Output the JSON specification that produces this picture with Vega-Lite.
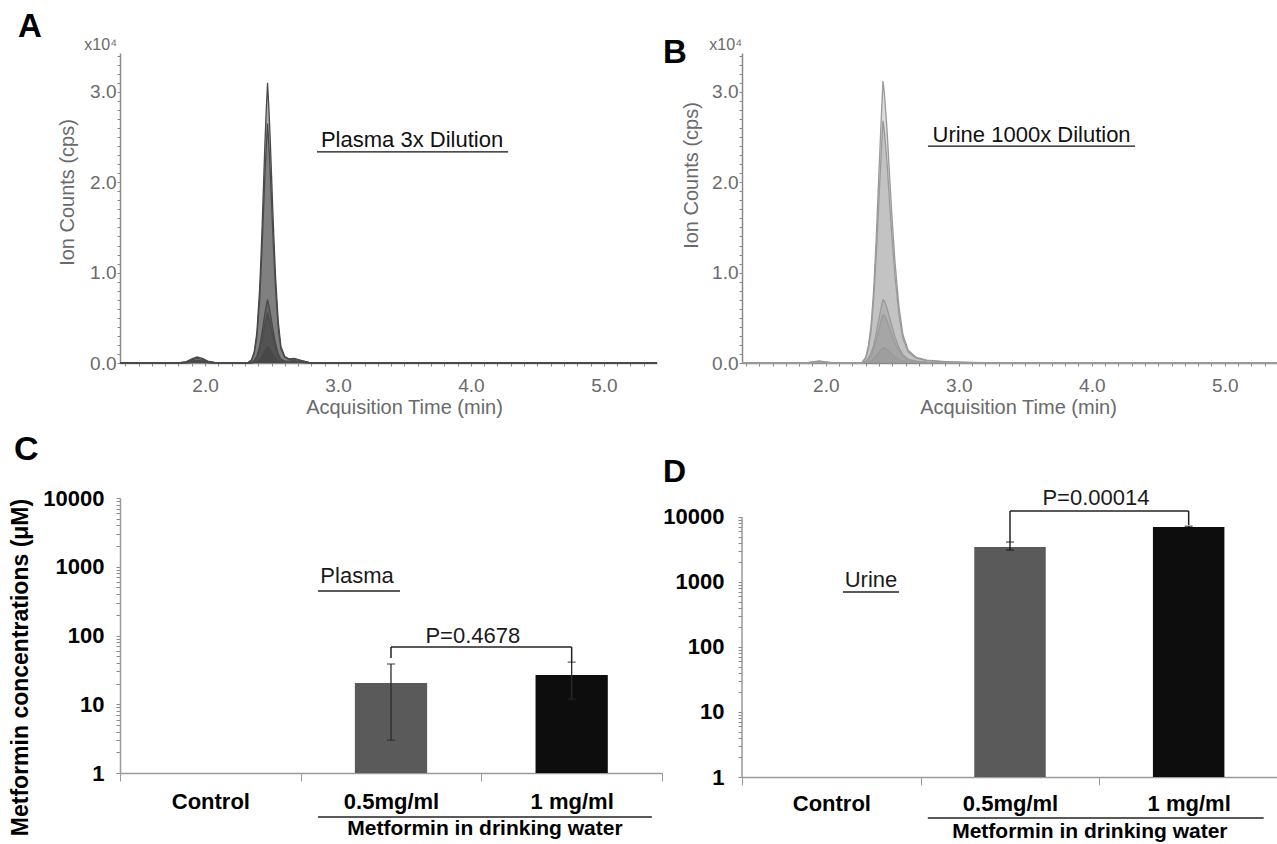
{
  "$schema": "https://vega.github.io/schema/vega-lite/v6.json",
  "padding": {"left": 9, "top": 11, "right": 0, "bottom": 0},
  "bounds": "flush",
  "columns": 2,
  "spacing": {"row": 135, "column": 80},
  "config": {
    "view": {"stroke": null},
    "font": "Liberation Sans",
    "axis": {"grid": false, "labelOverlap": false, "labelFlush": false, "labelBound": false}
  },
  "datasets": {
    "chromA": [
      {"t": 1.36, "s1": 0, "s2": 0, "s3": 0, "s4": 0, "s5": 0},
      {"t": 1.80, "s1": 0, "s2": 0, "s3": 0, "s4": 0, "s5": 0},
      {"t": 1.86, "s1": 0.015, "s2": 0.012, "s3": 0.008, "s4": 0.005, "s5": 0.003},
      {"t": 1.90, "s1": 0.045, "s2": 0.035, "s3": 0.022, "s4": 0.015, "s5": 0.008},
      {"t": 1.94, "s1": 0.066, "s2": 0.05, "s3": 0.03, "s4": 0.02, "s5": 0.01},
      {"t": 1.98, "s1": 0.05, "s2": 0.04, "s3": 0.024, "s4": 0.016, "s5": 0.008},
      {"t": 2.02, "s1": 0.022, "s2": 0.018, "s3": 0.011, "s4": 0.008, "s5": 0.004},
      {"t": 2.07, "s1": 0.006, "s2": 0.005, "s3": 0.003, "s4": 0.002, "s5": 0.001},
      {"t": 2.12, "s1": 0, "s2": 0, "s3": 0, "s4": 0, "s5": 0},
      {"t": 2.32, "s1": 0, "s2": 0, "s3": 0, "s4": 0, "s5": 0},
      {"t": 2.35, "s1": 0.037, "s2": 0.032, "s3": 0.008, "s4": 0.007, "s5": 0.002},
      {"t": 2.37, "s1": 0.124, "s2": 0.106, "s3": 0.028, "s4": 0.022, "s5": 0.007},
      {"t": 2.39, "s1": 0.341, "s2": 0.292, "s3": 0.077, "s4": 0.061, "s5": 0.02},
      {"t": 2.41, "s1": 0.806, "s2": 0.689, "s3": 0.182, "s4": 0.143, "s5": 0.047},
      {"t": 2.42, "s1": 1.147, "s2": 0.981, "s3": 0.259, "s4": 0.204, "s5": 0.067},
      {"t": 2.43, "s1": 1.55, "s2": 1.325, "s3": 0.35, "s4": 0.275, "s5": 0.09},
      {"t": 2.44, "s1": 1.984, "s2": 1.696, "s3": 0.448, "s4": 0.352, "s5": 0.115},
      {"t": 2.45, "s1": 2.418, "s2": 2.067, "s3": 0.546, "s4": 0.429, "s5": 0.14},
      {"t": 2.46, "s1": 2.79, "s2": 2.385, "s3": 0.63, "s4": 0.495, "s5": 0.162},
      {"t": 2.47, "s1": 3.1, "s2": 2.65, "s3": 0.7, "s4": 0.55, "s5": 0.18},
      {"t": 2.48, "s1": 2.821, "s2": 2.412, "s3": 0.637, "s4": 0.501, "s5": 0.164},
      {"t": 2.49, "s1": 2.48, "s2": 2.12, "s3": 0.56, "s4": 0.44, "s5": 0.144},
      {"t": 2.50, "s1": 2.077, "s2": 1.776, "s3": 0.469, "s4": 0.369, "s5": 0.121},
      {"t": 2.51, "s1": 1.674, "s2": 1.431, "s3": 0.378, "s4": 0.297, "s5": 0.097},
      {"t": 2.52, "s1": 1.302, "s2": 1.113, "s3": 0.294, "s4": 0.231, "s5": 0.076},
      {"t": 2.53, "s1": 0.961, "s2": 0.822, "s3": 0.217, "s4": 0.171, "s5": 0.056},
      {"t": 2.55, "s1": 0.465, "s2": 0.398, "s3": 0.105, "s4": 0.083, "s5": 0.027},
      {"t": 2.57, "s1": 0.186, "s2": 0.159, "s3": 0.042, "s4": 0.033, "s5": 0.011},
      {"t": 2.60, "s1": 0.07, "s2": 0.06, "s3": 0.02, "s4": 0.015, "s5": 0.006},
      {"t": 2.63, "s1": 0.045, "s2": 0.04, "s3": 0.02, "s4": 0.015, "s5": 0.008},
      {"t": 2.67, "s1": 0.05, "s2": 0.045, "s3": 0.025, "s4": 0.02, "s5": 0.01},
      {"t": 2.72, "s1": 0.03, "s2": 0.025, "s3": 0.015, "s4": 0.012, "s5": 0.008},
      {"t": 2.78, "s1": 0.008, "s2": 0.006, "s3": 0.004, "s4": 0.003, "s5": 0.002},
      {"t": 2.85, "s1": 0, "s2": 0, "s3": 0, "s4": 0, "s5": 0},
      {"t": 5.40, "s1": 0, "s2": 0, "s3": 0, "s4": 0, "s5": 0}
    ],
    "chromB": [
      {"t": 1.37, "s1": 0, "s2": 0, "s3": 0, "s4": 0, "s5": 0},
      {"t": 1.85, "s1": 0, "s2": 0, "s3": 0, "s4": 0, "s5": 0},
      {"t": 1.90, "s1": 0.012, "s2": 0.01, "s3": 0.006, "s4": 0.004, "s5": 0.002},
      {"t": 1.95, "s1": 0.022, "s2": 0.018, "s3": 0.01, "s4": 0.007, "s5": 0.003},
      {"t": 2.00, "s1": 0.012, "s2": 0.01, "s3": 0.006, "s4": 0.004, "s5": 0.002},
      {"t": 2.06, "s1": 0, "s2": 0, "s3": 0, "s4": 0, "s5": 0},
      {"t": 2.27, "s1": 0, "s2": 0, "s3": 0, "s4": 0, "s5": 0},
      {"t": 2.30, "s1": 0.062, "s2": 0.054, "s3": 0.018, "s4": 0.014, "s5": 0.005},
      {"t": 2.32, "s1": 0.187, "s2": 0.161, "s3": 0.05, "s4": 0.038, "s5": 0.013},
      {"t": 2.34, "s1": 0.406, "s2": 0.348, "s3": 0.105, "s4": 0.08, "s5": 0.026},
      {"t": 2.36, "s1": 0.811, "s2": 0.697, "s3": 0.2, "s4": 0.153, "s5": 0.05},
      {"t": 2.38, "s1": 1.404, "s2": 1.206, "s3": 0.335, "s4": 0.256, "s5": 0.083},
      {"t": 2.40, "s1": 2.122, "s2": 1.822, "s3": 0.49, "s4": 0.375, "s5": 0.12},
      {"t": 2.42, "s1": 2.808, "s2": 2.412, "s3": 0.64, "s4": 0.49, "s5": 0.156},
      {"t": 2.43, "s1": 3.12, "s2": 2.68, "s3": 0.7, "s4": 0.535, "s5": 0.17},
      {"t": 2.44, "s1": 2.995, "s2": 2.573, "s3": 0.69, "s4": 0.528, "s5": 0.168},
      {"t": 2.46, "s1": 2.59, "s2": 2.224, "s3": 0.61, "s4": 0.467, "s5": 0.149},
      {"t": 2.48, "s1": 2.059, "s2": 1.769, "s3": 0.5, "s4": 0.383, "s5": 0.122},
      {"t": 2.50, "s1": 1.56, "s2": 1.34, "s3": 0.39, "s4": 0.298, "s5": 0.095},
      {"t": 2.52, "s1": 1.123, "s2": 0.965, "s3": 0.29, "s4": 0.222, "s5": 0.071},
      {"t": 2.55, "s1": 0.624, "s2": 0.536, "s3": 0.17, "s4": 0.13, "s5": 0.042},
      {"t": 2.58, "s1": 0.312, "s2": 0.268, "s3": 0.09, "s4": 0.069, "s5": 0.022},
      {"t": 2.62, "s1": 0.14, "s2": 0.121, "s3": 0.042, "s4": 0.032, "s5": 0.011},
      {"t": 2.68, "s1": 0.062, "s2": 0.054, "s3": 0.02, "s4": 0.015, "s5": 0.005},
      {"t": 2.76, "s1": 0.031, "s2": 0.027, "s3": 0.01, "s4": 0.007, "s5": 0.003},
      {"t": 2.90, "s1": 0.016, "s2": 0.013, "s3": 0.005, "s4": 0.004, "s5": 0.002},
      {"t": 3.10, "s1": 0.006, "s2": 0.005, "s3": 0.002, "s4": 0.002, "s5": 0.001},
      {"t": 3.30, "s1": 0, "s2": 0, "s3": 0, "s4": 0, "s5": 0},
      {"t": 5.40, "s1": 0, "s2": 0, "s3": 0, "s4": 0, "s5": 0}
    ],
    "plasma": [
      {"dose": "0.5mg/ml", "mean": 20.4, "lo": 3.0, "hi": 38.5},
      {"dose": "1 mg/ml", "mean": 26.6, "lo": 11.9, "hi": 41}
    ],
    "urine": [
      {"dose": "0.5mg/ml", "mean": 3455, "lo": 3100, "hi": 4120},
      {"dose": "1 mg/ml", "mean": 7020, "lo": 6800, "hi": 7200}
    ]
  },
  "concat": [
    {
      "width": 537,
      "height": 310,
      "layer": [
        {
          "data": {"name": "chromA"},
          "transform": [{"fold": ["s1", "s2", "s3", "s4", "s5"], "as": ["series", "v"]}],
          "mark": {"type": "area", "color": "#3a3a3a", "fillOpacity": 0.4, "line": {"color": "#4a4a4a", "strokeWidth": 1.3}},
          "encoding": {
            "x": {
              "field": "t", "type": "quantitative",
              "scale": {"domain": [1.36, 5.4], "nice": false, "zero": false},
              "axis": {
                "values": [1.4,1.5,1.6,1.7,1.8,1.9,2,2.1,2.2,2.3,2.4,2.5,2.6,2.7,2.8,2.9,3,3.1,3.2,3.3,3.4,3.5,3.6,3.7,3.8,3.9,4,4.1,4.2,4.3,4.4,4.5,4.6,4.7,4.8,4.9,5,5.1,5.2,5.3],
                "tickCount": 200,
                "labelExpr": "indexof([2,3,4,5], datum.value) >= 0 ? format(datum.value, '.1f') : ''",
                "labelOverlap": false,
                "tickSize": 3, "tickColor": "#888888", "domainColor": "#8a8a8a", "domainWidth": 1.5,
                "labelFontSize": 19, "labelColor": "#6a6a6a", "labelPadding": 10,
                "title": "Acquisition Time (min)", "titleFontSize": 20, "titleFontWeight": "normal", "titleColor": "#6a6a6a",
                "titleX": 284, "titleY": 50, "titleBaseline": "alphabetic"
              }
            },
            "y": {
              "field": "v", "type": "quantitative", "stack": null,
              "scale": {"domain": [0, 3.43], "nice": false, "zero": false},
              "axis": {
                "values": [0,0.1,0.2,0.3,0.4,0.5,0.6,0.7,0.8,0.9,1,1.1,1.2,1.3,1.4,1.5,1.6,1.7,1.8,1.9,2,2.1,2.2,2.3,2.4,2.5,2.6,2.7,2.8,2.9,3,3.1,3.2,3.3,3.4],
                "tickCount": 200,
                "labelExpr": "indexof([0,1,2,3], datum.value) >= 0 ? format(datum.value, '.1f') : ''",
                "labelOverlap": false,
                "tickSize": 3, "tickColor": "#888888", "domainColor": "#8a8a8a", "domainWidth": 1.5,
                "labelFontSize": 19, "labelColor": "#6a6a6a", "labelPadding": 1,
                "title": "Ion Counts (cps)", "titleFontSize": 20, "titleFontWeight": "normal", "titleColor": "#6a6a6a",
                "titleY": 139, "titlePadding": 12
              }
            },
            "detail": {"field": "series", "type": "nominal"}
          }
        },
        {
          "data": {"values": [{"t": 0.593, "v": 3.607, "label": "A"}]},
          "mark": {"type": "text", "align": "left", "baseline": "alphabetic", "fontSize": 33, "fontWeight": "bold", "color": "#000"},
          "encoding": {
            "x": {"field": "t", "type": "quantitative", "scale": {"domain": [1.36, 5.4], "nice": false, "zero": false}},
            "y": {"field": "v", "type": "quantitative", "scale": {"domain": [0, 3.43], "nice": false, "zero": false}},
            "text": {"field": "label"}
          }
        },
        {
          "data": {"values": [{"t": 1.36, "v": 3.463, "label": "x10⁴"}]},
          "mark": {"type": "text", "align": "right", "baseline": "alphabetic", "dx": -3, "fontSize": 16, "color": "#6a6a6a"},
          "encoding": {
            "x": {"field": "t", "type": "quantitative", "scale": {"domain": [1.36, 5.4], "nice": false, "zero": false}},
            "y": {"field": "v", "type": "quantitative", "scale": {"domain": [0, 3.43], "nice": false, "zero": false}},
            "text": {"field": "label"}
          }
        },
        {
          "data": {"values": [{"t": 3.557, "v": 2.39, "label": "Plasma 3x Dilution"}]},
          "mark": {"type": "text", "align": "center", "baseline": "alphabetic", "fontSize": 22, "color": "#111"},
          "encoding": {
            "x": {"field": "t", "type": "quantitative", "scale": {"domain": [1.36, 5.4], "nice": false, "zero": false}},
            "y": {"field": "v", "type": "quantitative", "scale": {"domain": [0, 3.43], "nice": false, "zero": false}},
            "text": {"field": "label"}
          }
        },
        {
          "data": {"values": [{"t": 2.842, "t2": 4.28, "v": 2.335}]},
          "mark": {"type": "rule", "color": "#111", "strokeWidth": 1.2},
          "encoding": {
            "x": {"field": "t", "type": "quantitative", "scale": {"domain": [1.36, 5.4], "nice": false, "zero": false}},
            "x2": {"field": "t2"},
            "y": {"field": "v", "type": "quantitative", "scale": {"domain": [0, 3.43], "nice": false, "zero": false}}
          }
        }
      ]
    },
    {
      "width": 536,
      "height": 310,
      "layer": [
        {
          "data": {"name": "chromB"},
          "transform": [{"fold": ["s1", "s2", "s3", "s4", "s5"], "as": ["series", "v"]}],
          "mark": {"type": "area", "color": "#8c8c8c", "fillOpacity": 0.3, "line": {"color": "#9a9a9a", "strokeWidth": 1.3}},
          "encoding": {
            "x": {
              "field": "t", "type": "quantitative",
              "scale": {"domain": [1.37, 5.4], "nice": false, "zero": false},
              "axis": {
                "values": [1.4,1.5,1.6,1.7,1.8,1.9,2,2.1,2.2,2.3,2.4,2.5,2.6,2.7,2.8,2.9,3,3.1,3.2,3.3,3.4,3.5,3.6,3.7,3.8,3.9,4,4.1,4.2,4.3,4.4,4.5,4.6,4.7,4.8,4.9,5,5.1,5.2,5.3],
                "tickCount": 200,
                "labelExpr": "indexof([2,3,4,5], datum.value) >= 0 ? format(datum.value, '.1f') : ''",
                "labelOverlap": false,
                "tickSize": 3, "tickColor": "#888888", "domainColor": "#8a8a8a", "domainWidth": 1.5,
                "labelFontSize": 19, "labelColor": "#6a6a6a", "labelPadding": 10,
                "title": "Acquisition Time (min)", "titleFontSize": 20, "titleFontWeight": "normal", "titleColor": "#6a6a6a",
                "titleX": 276, "titleY": 50, "titleBaseline": "alphabetic"
              }
            },
            "y": {
              "field": "v", "type": "quantitative", "stack": null,
              "scale": {"domain": [0, 3.43], "nice": false, "zero": false},
              "axis": {
                "values": [0,0.1,0.2,0.3,0.4,0.5,0.6,0.7,0.8,0.9,1,1.1,1.2,1.3,1.4,1.5,1.6,1.7,1.8,1.9,2,2.1,2.2,2.3,2.4,2.5,2.6,2.7,2.8,2.9,3,3.1,3.2,3.3,3.4],
                "tickCount": 200,
                "labelExpr": "indexof([0,1,2,3], datum.value) >= 0 ? format(datum.value, '.1f') : ''",
                "labelOverlap": false,
                "tickSize": 3, "tickColor": "#888888", "domainColor": "#8a8a8a", "domainWidth": 1.5,
                "labelFontSize": 19, "labelColor": "#6a6a6a", "labelPadding": 1,
                "title": "Ion Counts (cps)", "titleFontSize": 20, "titleFontWeight": "normal", "titleColor": "#6a6a6a",
                "titleY": 122, "titlePadding": 10
              }
            },
            "detail": {"field": "series", "type": "nominal"}
          }
        },
        {
          "data": {"values": [{"t": 0.776, "v": 3.319, "label": "B"}]},
          "mark": {"type": "text", "align": "left", "baseline": "alphabetic", "fontSize": 33, "fontWeight": "bold", "color": "#000"},
          "encoding": {
            "x": {"field": "t", "type": "quantitative", "scale": {"domain": [1.37, 5.4], "nice": false, "zero": false}},
            "y": {"field": "v", "type": "quantitative", "scale": {"domain": [0, 3.43], "nice": false, "zero": false}},
            "text": {"field": "label"}
          }
        },
        {
          "data": {"values": [{"t": 1.37, "v": 3.463, "label": "x10⁴"}]},
          "mark": {"type": "text", "align": "right", "baseline": "alphabetic", "dx": 0, "fontSize": 16, "color": "#6a6a6a"},
          "encoding": {
            "x": {"field": "t", "type": "quantitative", "scale": {"domain": [1.37, 5.4], "nice": false, "zero": false}},
            "y": {"field": "v", "type": "quantitative", "scale": {"domain": [0, 3.43], "nice": false, "zero": false}},
            "text": {"field": "label"}
          }
        },
        {
          "data": {"values": [{"t": 3.547, "v": 2.445, "label": "Urine 1000x Dilution"}]},
          "mark": {"type": "text", "align": "center", "baseline": "alphabetic", "fontSize": 22, "color": "#111"},
          "encoding": {
            "x": {"field": "t", "type": "quantitative", "scale": {"domain": [1.37, 5.4], "nice": false, "zero": false}},
            "y": {"field": "v", "type": "quantitative", "scale": {"domain": [0, 3.43], "nice": false, "zero": false}},
            "text": {"field": "label"}
          }
        },
        {
          "data": {"values": [{"t": 2.768, "t2": 4.325, "v": 2.40}]},
          "mark": {"type": "rule", "color": "#111", "strokeWidth": 1.2},
          "encoding": {
            "x": {"field": "t", "type": "quantitative", "scale": {"domain": [1.37, 5.4], "nice": false, "zero": false}},
            "x2": {"field": "t2"},
            "y": {"field": "v", "type": "quantitative", "scale": {"domain": [0, 3.43], "nice": false, "zero": false}}
          }
        }
      ]
    },
    {
      "width": 542,
      "height": 275,
      "resolve": {"scale": {"x": "independent"}, "axis": {"x": "independent"}},
      "layer": [
        {
          "data": {"name": "plasma"},
          "mark": {"type": "bar", "width": {"band": 0.4}},
          "encoding": {
            "x": {
              "field": "dose", "type": "nominal", "sort": null,
              "scale": {"domain": ["Control", "0.5mg/ml", "1 mg/ml"], "paddingInner": 0, "paddingOuter": 0},
              "axis": {
                "tickBand": "extent", "tickSize": 8, "tickColor": "#9a9a9a", "domainColor": "#9a9a9a", "domainWidth": 1.5,
                "labelFontSize": 22, "labelFontWeight": "bold", "labelColor": "#000", "labelBaseline": "alphabetic",
                "labelPadding": 27, "labelAngle": 0, "title": null
              }
            },
            "y": {
              "field": "mean", "type": "quantitative",
              "scale": {"type": "log", "domain": [1, 10000], "nice": false},
              "axis": {
                "values": [1,2,3,4,5,6,7,8,9,10,20,30,40,50,60,70,80,90,100,200,300,400,500,600,700,800,900,1000,2000,3000,4000,5000,6000,7000,8000,9000,10000],
                "tickCount": 200,
                "labelExpr": "indexof([1,10,100,1000,10000], datum.value) >= 0 ? format(datum.value, 'd') : ''",
                "labelOverlap": false,
                "tickSize": 4, "tickColor": "#8a8a8a", "domainColor": "#9a9a9a", "domainWidth": 1.5,
                "labelFontSize": 22, "labelFontWeight": "bold", "labelColor": "#000", "labelPadding": 12,
                "title": "Metformin concentrations (μM)", "titleFontSize": 23, "titleFontWeight": "bold", "titleColor": "#000",
                "titleY": 169, "titlePadding": 10
              }
            },
            "y2": {"datum": 1},
            "color": {"field": "dose", "type": "nominal", "scale": {"domain": ["0.5mg/ml", "1 mg/ml"], "range": ["#5a5a5a", "#0d0d0d"]}, "legend": null}
          }
        },
        {
          "data": {"name": "plasma"},
          "mark": {"type": "rule", "color": "#2a2a2a", "strokeWidth": 1.3},
          "encoding": {
            "x": {"field": "dose", "type": "nominal", "sort": null, "scale": {"domain": ["Control", "0.5mg/ml", "1 mg/ml"], "paddingInner": 0, "paddingOuter": 0}, "axis": null},
            "y": {"field": "lo", "type": "quantitative", "scale": {"type": "log", "domain": [1, 10000], "nice": false}},
            "y2": {"field": "hi"}
          }
        },
        {
          "data": {"name": "plasma"},
          "mark": {"type": "tick", "color": "#2a2a2a", "size": 8, "thickness": 1.3},
          "encoding": {
            "x": {"field": "dose", "type": "nominal", "sort": null, "scale": {"domain": ["Control", "0.5mg/ml", "1 mg/ml"], "paddingInner": 0, "paddingOuter": 0}, "axis": null},
            "y": {"field": "lo", "type": "quantitative", "scale": {"type": "log", "domain": [1, 10000], "nice": false}}
          }
        },
        {
          "data": {"name": "plasma"},
          "mark": {"type": "tick", "color": "#2a2a2a", "size": 8, "thickness": 1.3},
          "encoding": {
            "x": {"field": "dose", "type": "nominal", "sort": null, "scale": {"domain": ["Control", "0.5mg/ml", "1 mg/ml"], "paddingInner": 0, "paddingOuter": 0}, "axis": null},
            "y": {"field": "hi", "type": "quantitative", "scale": {"type": "log", "domain": [1, 10000], "nice": false}}
          }
        },
        {
          "data": {"values": [{"xq": -0.587, "v": 35700, "label": "C"}]},
          "mark": {"type": "text", "align": "left", "baseline": "alphabetic", "fontSize": 34, "fontWeight": "bold", "color": "#000"},
          "encoding": {
            "x": {"field": "xq", "type": "quantitative", "scale": {"domain": [0, 3], "nice": false, "zero": false}, "axis": null},
            "y": {"field": "v", "type": "quantitative", "scale": {"type": "log", "domain": [1, 10000], "nice": false}},
            "text": {"field": "label"}
          }
        },
        {
          "data": {"values": [{"xq": 1.312, "v": 580, "label": "Plasma"}, {"xq": 1.953, "v": 77.8, "label": "P=0.4678"}]},
          "mark": {"type": "text", "align": "center", "baseline": "alphabetic", "fontSize": 22, "color": "#1a1a1a"},
          "encoding": {
            "x": {"field": "xq", "type": "quantitative", "scale": {"domain": [0, 3], "nice": false, "zero": false}, "axis": null},
            "y": {"field": "v", "type": "quantitative", "scale": {"type": "log", "domain": [1, 10000], "nice": false}},
            "text": {"field": "label"}
          }
        },
        {
          "data": {"values": [{"xq": 2.02, "v": 0.125, "label": "Metformin in drinking water"}]},
          "mark": {"type": "text", "align": "center", "baseline": "alphabetic", "fontSize": 21, "fontWeight": "bold", "color": "#000"},
          "encoding": {
            "x": {"field": "xq", "type": "quantitative", "scale": {"domain": [0, 3], "nice": false, "zero": false}, "axis": null},
            "y": {"field": "v", "type": "quantitative", "scale": {"type": "log", "domain": [1, 10000], "nice": false}},
            "text": {"field": "label"}
          }
        },
        {
          "data": {"values": [
            {"xq": 1.096, "xq2": 1.55, "v": 444, "v2": 444},
            {"xq": 1.5, "xq2": 2.5, "v": 68, "v2": 68},
            {"xq": 1.5, "xq2": 1.5, "v": 47, "v2": 68},
            {"xq": 2.5, "xq2": 2.5, "v": 41, "v2": 68},
            {"xq": 1.096, "xq2": 2.944, "v": 0.229, "v2": 0.229}
          ]},
          "mark": {"type": "rule", "color": "#222", "strokeWidth": 1.5},
          "encoding": {
            "x": {"field": "xq", "type": "quantitative", "scale": {"domain": [0, 3], "nice": false, "zero": false}, "axis": null},
            "x2": {"field": "xq2"},
            "y": {"field": "v", "type": "quantitative", "scale": {"type": "log", "domain": [1, 10000], "nice": false}},
            "y2": {"field": "v2"}
          }
        }
      ]
    },
    {
      "width": 536,
      "height": 279,
      "resolve": {"scale": {"x": "independent"}, "axis": {"x": "independent"}},
      "layer": [
        {
          "data": {"name": "urine"},
          "mark": {"type": "bar", "width": {"band": 0.4}},
          "encoding": {
            "x": {
              "field": "dose", "type": "nominal", "sort": null,
              "scale": {"domain": ["Control", "0.5mg/ml", "1 mg/ml"], "paddingInner": 0, "paddingOuter": 0},
              "axis": {
                "tickBand": "extent", "tickSize": 8, "tickColor": "#9a9a9a", "domainColor": "#9a9a9a", "domainWidth": 1.5,
                "labelFontSize": 22, "labelFontWeight": "bold", "labelColor": "#000", "labelBaseline": "alphabetic",
                "labelPadding": 25, "labelAngle": 0, "title": null
              }
            },
            "y": {
              "field": "mean", "type": "quantitative",
              "scale": {"type": "log", "domain": [1, 19588], "nice": false},
              "axis": {
                "values": [1,2,3,4,5,6,7,8,9,10,20,30,40,50,60,70,80,90,100,200,300,400,500,600,700,800,900,1000,2000,3000,4000,5000,6000,7000,8000,9000,10000],
                "tickCount": 200,
                "labelExpr": "indexof([1,10,100,1000,10000], datum.value) >= 0 ? format(datum.value, 'd') : ''",
                "labelOverlap": false,
                "tickSize": 4, "tickColor": "#8a8a8a", "domain": false,
                "labelFontSize": 22, "labelFontWeight": "bold", "labelColor": "#000", "labelPadding": 14,
                "title": null
              }
            },
            "y2": {"datum": 1},
            "color": {"field": "dose", "type": "nominal", "scale": {"domain": ["0.5mg/ml", "1 mg/ml"], "range": ["#5a5a5a", "#000000"]}, "legend": null}
          }
        },
        {
          "data": {"name": "urine"},
          "mark": {"type": "rule", "color": "#111", "strokeWidth": 1.3},
          "encoding": {
            "x": {"field": "dose", "type": "nominal", "sort": null, "scale": {"domain": ["Control", "0.5mg/ml", "1 mg/ml"], "paddingInner": 0, "paddingOuter": 0}, "axis": null},
            "y": {"field": "lo", "type": "quantitative", "scale": {"type": "log", "domain": [1, 19588], "nice": false}},
            "y2": {"field": "hi"}
          }
        },
        {
          "data": {"name": "urine"},
          "mark": {"type": "tick", "color": "#111", "size": 8, "thickness": 1.3},
          "encoding": {
            "x": {"field": "dose", "type": "nominal", "sort": null, "scale": {"domain": ["Control", "0.5mg/ml", "1 mg/ml"], "paddingInner": 0, "paddingOuter": 0}, "axis": null},
            "y": {"field": "lo", "type": "quantitative", "scale": {"type": "log", "domain": [1, 19588], "nice": false}}
          }
        },
        {
          "data": {"name": "urine"},
          "mark": {"type": "tick", "color": "#111", "size": 8, "thickness": 1.3},
          "encoding": {
            "x": {"field": "dose", "type": "nominal", "sort": null, "scale": {"domain": ["Control", "0.5mg/ml", "1 mg/ml"], "paddingInner": 0, "paddingOuter": 0}, "axis": null},
            "y": {"field": "hi", "type": "quantitative", "scale": {"type": "log", "domain": [1, 19588], "nice": false}}
          }
        },
        {
          "data": {"values": [{"xq": 0, "xq2": 0, "v": 1, "v2": 10000}]},
          "mark": {"type": "rule", "color": "#9a9a9a", "strokeWidth": 1.5},
          "encoding": {
            "x": {"field": "xq", "type": "quantitative", "scale": {"domain": [0, 3], "nice": false, "zero": false}, "axis": null},
            "x2": {"field": "xq2"},
            "y": {"field": "v", "type": "quantitative", "scale": {"type": "log", "domain": [1, 19588], "nice": false}},
            "y2": {"field": "v2"}
          }
        },
        {
          "data": {"values": [{"xq": -0.442, "v": 34500, "label": "D"}]},
          "mark": {"type": "text", "align": "left", "baseline": "alphabetic", "fontSize": 32, "fontWeight": "bold", "color": "#000"},
          "encoding": {
            "x": {"field": "xq", "type": "quantitative", "scale": {"domain": [0, 3], "nice": false, "zero": false}, "axis": null},
            "y": {"field": "v", "type": "quantitative", "scale": {"type": "log", "domain": [1, 19588], "nice": false}},
            "text": {"field": "label"}
          }
        },
        {
          "data": {"values": [{"xq": 0.722, "v": 838, "label": "Urine"}, {"xq": 1.981, "v": 15300, "label": "P=0.00014"}]},
          "mark": {"type": "text", "align": "center", "baseline": "alphabetic", "fontSize": 22, "color": "#1a1a1a"},
          "encoding": {
            "x": {"field": "xq", "type": "quantitative", "scale": {"domain": [0, 3], "nice": false, "zero": false}, "axis": null},
            "y": {"field": "v", "type": "quantitative", "scale": {"type": "log", "domain": [1, 19588], "nice": false}},
            "text": {"field": "label"}
          }
        },
        {
          "data": {"values": [{"xq": 1.947, "v": 0.115, "label": "Metformin in drinking water"}]},
          "mark": {"type": "text", "align": "center", "baseline": "alphabetic", "fontSize": 21, "fontWeight": "bold", "color": "#000"},
          "encoding": {
            "x": {"field": "xq", "type": "quantitative", "scale": {"domain": [0, 3], "nice": false, "zero": false}, "axis": null},
            "y": {"field": "v", "type": "quantitative", "scale": {"type": "log", "domain": [1, 19588], "nice": false}},
            "text": {"field": "label"}
          }
        },
        {
          "data": {"values": [
            {"xq": 0.565, "xq2": 0.879, "v": 702, "v2": 702},
            {"xq": 1.5, "xq2": 2.5, "v": 12370, "v2": 12370},
            {"xq": 1.5, "xq2": 1.5, "v": 4125, "v2": 12370},
            {"xq": 2.5, "xq2": 2.5, "v": 7530, "v2": 12370},
            {"xq": 1.04, "xq2": 2.92, "v": 0.234, "v2": 0.234}
          ]},
          "mark": {"type": "rule", "color": "#222", "strokeWidth": 1.5},
          "encoding": {
            "x": {"field": "xq", "type": "quantitative", "scale": {"domain": [0, 3], "nice": false, "zero": false}, "axis": null},
            "x2": {"field": "xq2"},
            "y": {"field": "v", "type": "quantitative", "scale": {"type": "log", "domain": [1, 19588], "nice": false}},
            "y2": {"field": "v2"}
          }
        }
      ]
    }
  ]
}
